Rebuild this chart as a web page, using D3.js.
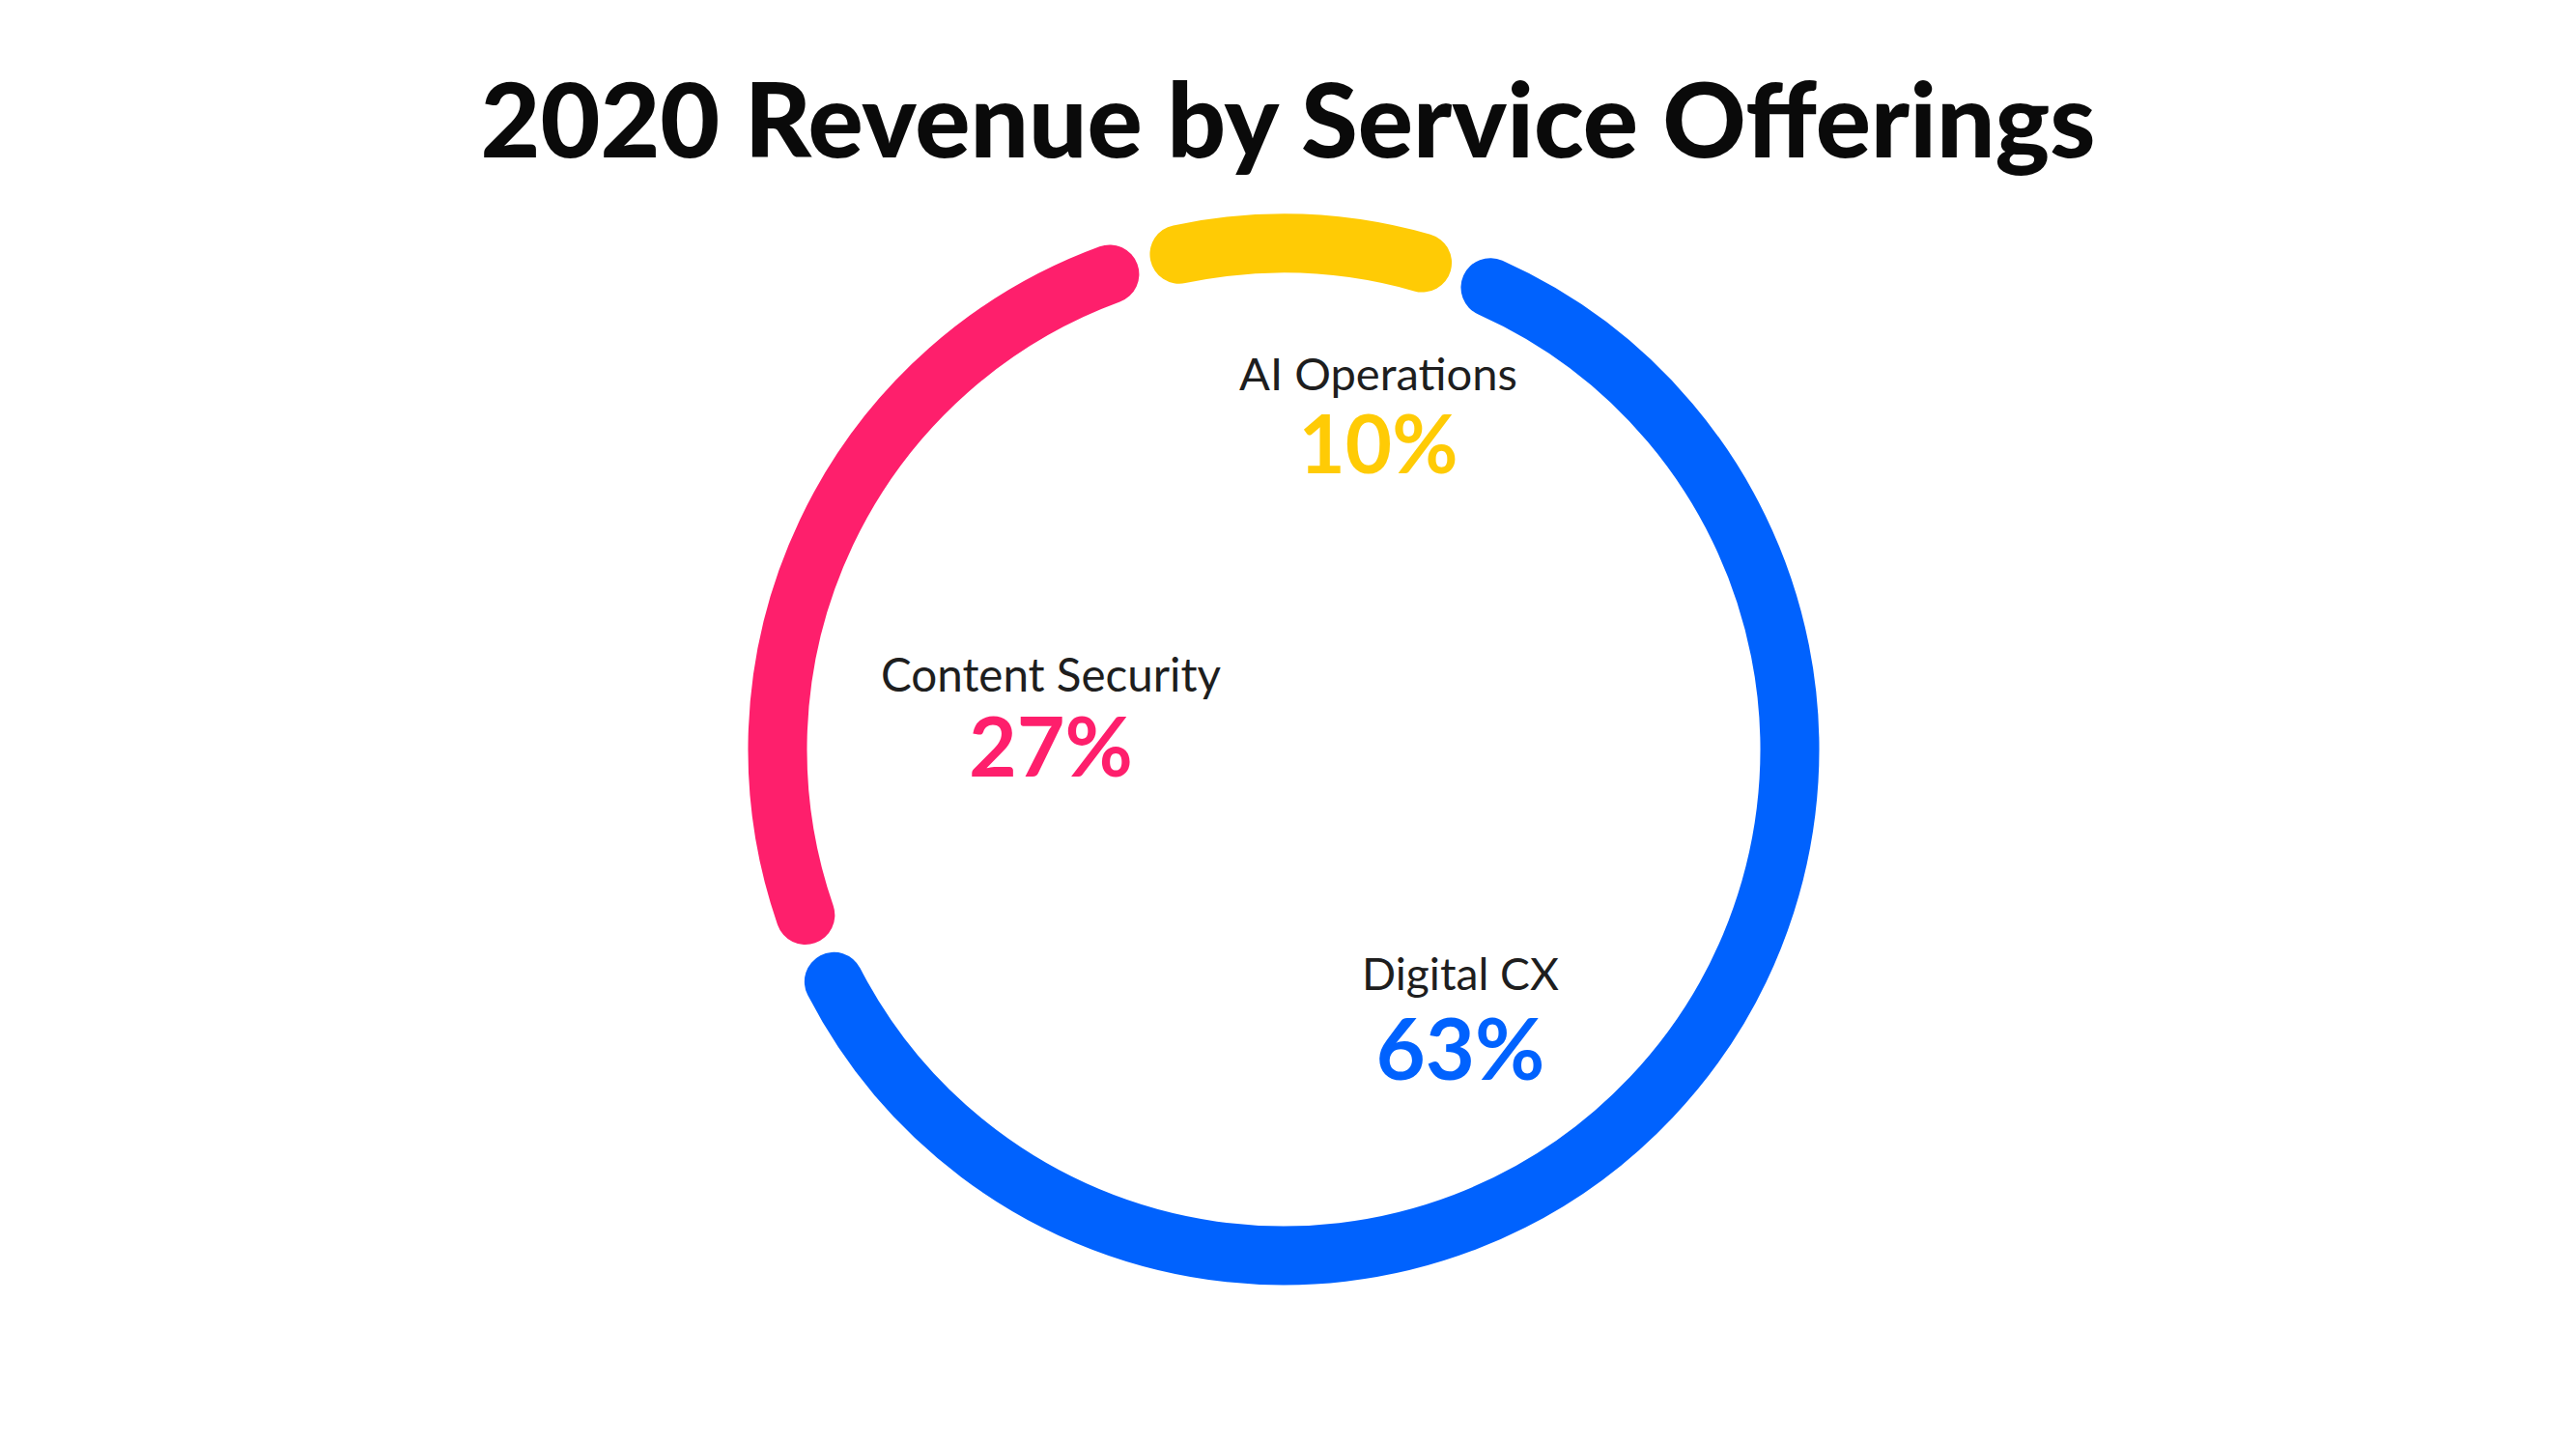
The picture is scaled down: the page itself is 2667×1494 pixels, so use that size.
<!DOCTYPE html>
<html>
<head>
<meta charset="utf-8">
<script src="https://cdn.jsdelivr.net/npm/d3@7"></script>
<style>
  html, body { margin: 0; padding: 0; background: #ffffff; }
  svg { display: block; }
</style>
</head>
<body>
<svg id="chart" width="2667" height="1494"></svg>
<script>
// ---- data ----
const title = "2020 Revenue by Service Offerings";
const categories = ["AI Operations", "Digital CX", "Content Security"];
const values = [10, 63, 27];
const valueLabels = ["10%", "63%", "27%"];
const colors = ["#FFCB05", "#0062FE", "#FE1F6C"];

// ---- layout ----
const W = 2667, H = 1494;
const cx = 1329, cy = 776;
const ringR = 524, ringW = 61;
const startDeg = -16;
const capGapPx = 14;
// label centres relative to ring centre (name baseline, value baseline)
const labelLayout = [
  { dx: 98,  nameY: 404,  valY: 490,  nameW: 288, valW: 165 },
  { dx: 183, nameY: 1025, valY: 1118, nameW: 204, valW: 175 },
  { dx: -241, nameY: 716, valY: 804,  nameW: 352, valW: 170 }
];

const svg = d3.select("#chart");
svg.append("rect").attr("width", W).attr("height", H).attr("fill", "#fff");

function fitText(sel, targetW) {
  const node = sel.node();
  const base = parseFloat(sel.attr("font-size"));
  const w = node.getComputedTextLength();
  if (w > 0) sel.attr("font-size", (base * targetW / w).toFixed(2));
}

// title
const t = svg.append("text")
  .attr("x", W / 2).attr("y", 163)
  .attr("text-anchor", "middle")
  .attr("font-family", "Lato, 'Noto Sans', sans-serif")
  .attr("font-weight", 900)
  .attr("font-size", 104)
  .attr("fill", "#0a0a0a")
  .text(title);
fitText(t, 1672);

// ring
const pie = d3.pie().sort(null).value(d => d)
  .startAngle(startDeg * Math.PI / 180)
  .endAngle(startDeg * Math.PI / 180 + 2 * Math.PI);
const arcs = pie(values);
const inset = (capGapPx / 2 + ringW / 2) / ringR;

const g = svg.append("g");
g.selectAll("path.seg")
  .data(arcs)
  .join("path")
  .attr("class", "seg")
  .attr("d", d => {
    const p = d3.path();
    const a0 = d.startAngle + inset - Math.PI / 2;
    const a1 = d.endAngle - inset - Math.PI / 2;
    p.arc(cx, cy, ringR, a0, a1, false);
    return p.toString();
  })
  .attr("fill", "none")
  .attr("stroke", (d, i) => colors[i])
  .attr("stroke-width", ringW)
  .attr("stroke-linecap", "round");

// labels
categories.forEach((c, i) => {
  const L = labelLayout[i];
  const n = svg.append("text")
    .attr("x", cx + L.dx).attr("y", L.nameY)
    .attr("text-anchor", "middle")
    .attr("font-family", "Lato, 'Noto Sans', sans-serif")
    .attr("font-weight", 400)
    .attr("font-size", 40)
    .attr("fill", "#1e1e1e")
    .text(c);
  fitText(n, L.nameW);
  const v = svg.append("text")
    .attr("x", cx + L.dx).attr("y", L.valY)
    .attr("text-anchor", "middle")
    .attr("font-family", "Lato, 'Noto Sans', sans-serif")
    .attr("font-weight", 700)
    .attr("font-size", 84)
    .attr("fill", colors[i])
    .text(valueLabels[i]);
  fitText(v, L.valW);
});
</script>
</body>
</html>
